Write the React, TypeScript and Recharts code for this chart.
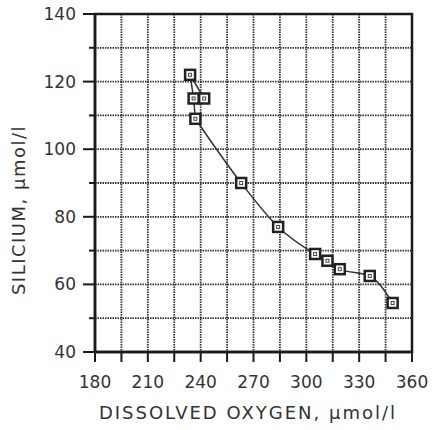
import React from "react";
import {
  CartesianGrid,
  ComposedChart,
  Line,
  ReferenceArea,
  Scatter,
  XAxis,
  YAxis,
} from "recharts";

// dissolved oxygen (umol/l) vs silicium (umol/l)
const oxygen = [234, 236, 242, 237, 263, 284, 305, 312, 319, 336, 349];
const silicium = [122, 115, 115, 109, 90, 77, 69, 67, 64.5, 62.5, 54.5];

// order the hand-drawn line follows through the points
const topPath = [2, 0, 1, 3];
const curvePath = [3, 4, 5, 6, 7, 8, 9, 10];

const xTicks = [180, 195, 210, 225, 240, 255, 270, 285, 300, 315, 330, 345, 360];
const yTicks = [40, 50, 60, 70, 80, 90, 100, 110, 120, 130, 140];

const points = oxygen.map((x, i) => ({ x, y: silicium[i] }));
const topData = topPath.map((i) => points[i]);
const curveData = curvePath.map((i) => points[i]);

const FONT = "'DejaVu Sans', sans-serif";
const INK = "#1a1a1a";

const XTick = ({ x, y, payload }: any) => (
  <g>
    <line x1={x} x2={x} y1={y} y2={y + 10} stroke={INK} strokeWidth={2} />
    {payload.value % 30 === 0 && (
      <text x={x} y={y + 36} textAnchor="middle" fontSize={17} fontFamily={FONT} fill="#333">
        {payload.value}
      </text>
    )}
  </g>
);

const YTick = ({ x, y, payload }: any) => {
  const major = payload.value % 20 === 0;
  return (
    <g>
      <line x1={x - (major ? 12 : 6)} x2={x} y1={y} y2={y} stroke={INK} strokeWidth={2} />
      {major && (
        <text x={x - 19} y={y + 6} textAnchor="end" fontSize={17} fontFamily={FONT} fill="#333">
          {payload.value}
        </text>
      )}
    </g>
  );
};

const SquareMark = ({ cx, cy }: any) => (
  <g>
    <rect x={cx - 5} y={cy - 5} width={10} height={10} fill="#fff" stroke="#222" strokeWidth={2.5} />
    <rect x={cx - 1.5} y={cy - 1.5} width={3} height={3} fill="none" stroke="#444" strokeWidth={1} />
  </g>
);

const XTitle = () => (
  <text x={248} y={419} textAnchor="middle" fontSize={18} letterSpacing={2} fontFamily={FONT} fill="#333">
    DISSOLVED OXYGEN, µmol/l
  </text>
);

const YTitle = () => (
  <text
    x={18}
    y={210}
    transform="rotate(-90 18 210)"
    textAnchor="middle"
    dominantBaseline="central"
    fontSize={18}
    letterSpacing={1.5}
    fontFamily={FONT}
    fill="#333"
  >
    SILICIUM, µmol/l
  </text>
);

export default function App() {
  return (
    <div style={{ position: "absolute", left: 0, top: 0, background: "#fff" }}>
      <ComposedChart
        width={434}
        height={430}
        margin={{ top: 14, right: 22, left: 0, bottom: 0 }}
      >
        <CartesianGrid stroke="#333" strokeWidth={1.8} strokeDasharray="1.5 1" />
        <XAxis
          type="number"
          dataKey="x"
          domain={[180, 360]}
          ticks={xTicks}
          interval={0}
          height={78}
          tickSize={0}
          tickMargin={0}
          tickLine={false}
          axisLine={{ stroke: INK, strokeWidth: 2.5 }}
          tick={<XTick />}
          label={{ content: <XTitle /> }}
          allowDataOverflow
        />
        <YAxis
          type="number"
          dataKey="y"
          domain={[40, 140]}
          ticks={yTicks}
          interval={0}
          width={95}
          tickSize={0}
          tickMargin={0}
          tickLine={false}
          axisLine={{ stroke: INK, strokeWidth: 2.5 }}
          tick={<YTick />}
          label={{ content: <YTitle /> }}
          allowDataOverflow
        />
        <ReferenceArea
          x1={180}
          x2={360}
          y1={40}
          y2={140}
          fill="none"
          stroke={INK}
          strokeWidth={2.5}
        />
        <Line
          data={topData}
          dataKey="y"
          type="linear"
          stroke="#333"
          strokeWidth={1.5}
          dot={false}
          activeDot={false}
          isAnimationActive={false}
        />
        <Line
          data={curveData}
          dataKey="y"
          type="monotone"
          stroke="#333"
          strokeWidth={1.5}
          dot={false}
          activeDot={false}
          isAnimationActive={false}
        />
        <Scatter data={points} dataKey="y" shape={<SquareMark />} isAnimationActive={false} />
      </ComposedChart>
    </div>
  );
}
